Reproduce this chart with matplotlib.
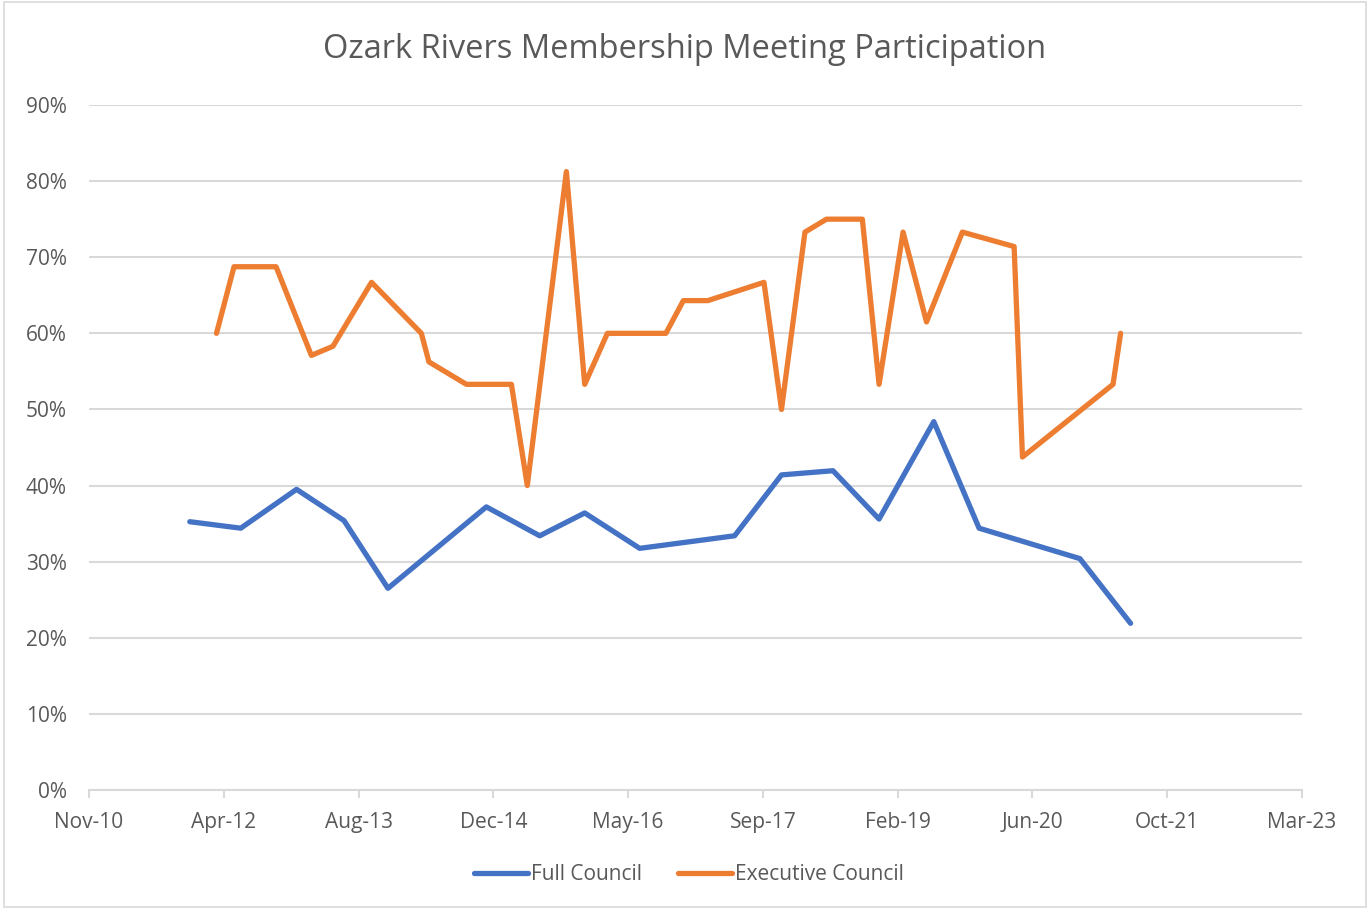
import matplotlib
matplotlib.use("Agg")
import matplotlib.pyplot as plt
import matplotlib.dates as mdates
from datetime import date

# Full Council meetings (roughly twice a year)
full_dates = [date(2011, 11, 27), date(2012, 6, 3), date(2012, 12, 27), date(2013, 6, 21),
              date(2013, 12, 1), date(2014, 12, 1), date(2015, 6, 17), date(2015, 12, 1),
              date(2016, 6, 22), date(2017, 6, 9), date(2017, 11, 30), date(2018, 6, 9),
              date(2018, 11, 27), date(2019, 6, 18), date(2019, 12, 3), date(2020, 12, 11),
              date(2021, 6, 17)]
full_vals = [0.3525, 0.344, 0.395, 0.354, 0.265, 0.372, 0.334, 0.364,
             0.3175, 0.334, 0.414, 0.4195, 0.356, 0.484, 0.344, 0.304, 0.219]

# Executive Council meetings
exec_dates = [date(2012, 3, 5), date(2012, 5, 9), date(2012, 10, 12), date(2013, 2, 20),
              date(2013, 5, 11), date(2013, 10, 1), date(2014, 4, 4), date(2014, 5, 2),
              date(2014, 9, 18), date(2015, 3, 4), date(2015, 5, 2), date(2015, 9, 24),
              date(2015, 12, 1), date(2016, 2, 23), date(2016, 9, 27), date(2016, 12, 1),
              date(2017, 3, 2), date(2017, 9, 26), date(2017, 11, 30), date(2018, 2, 25),
              date(2018, 5, 16), date(2018, 9, 26), date(2018, 11, 27), date(2019, 2, 24),
              date(2019, 5, 22), date(2019, 10, 2), date(2020, 4, 11), date(2020, 5, 12),
              date(2021, 4, 13), date(2021, 5, 11)]
exec_vals = [0.60, 0.6875, 0.6875, 0.571, 0.583, 0.667, 0.60, 0.5625,
             0.533, 0.533, 0.40, 0.8125, 0.533, 0.60, 0.60, 0.643,
             0.643, 0.667, 0.50, 0.733, 0.75, 0.75, 0.533, 0.733,
             0.615, 0.733, 0.714, 0.4375, 0.533, 0.60]

# Excel style date ticks every 500 days
tick_dates = [date(2010, 11, 18), date(2012, 4, 1), date(2013, 8, 14), date(2014, 12, 27),
              date(2016, 5, 10), date(2017, 9, 22), date(2019, 2, 4), date(2020, 6, 18),
              date(2021, 10, 31), date(2023, 3, 15)]
tick_labels = ["Nov-10", "Apr-12", "Aug-13", "Dec-14", "May-16", "Sep-17",
               "Feb-19", "Jun-20", "Oct-21", "Mar-23"]
y_ticks = [0.0, 0.1, 0.2, 0.3, 0.4, 0.5, 0.6, 0.7, 0.8, 0.9]

plt.rcParams['font.family'] = ['Open Sans', 'DejaVu Sans']
txt = '#595959'
grid_c = '#D9D9D9'

fig = plt.figure(figsize=(13.7, 9.09), dpi=100)
ax = fig.add_axes([89/1370, 1-790/909, (1302-89)/1370, (790-105)/909])

ax.plot(full_dates, full_vals, color='#4472C4', lw=3.8,
        solid_capstyle='round', solid_joinstyle='round', label='Full Council')
ax.plot(exec_dates, exec_vals, color='#ED7D31', lw=3.8,
        solid_capstyle='round', solid_joinstyle='round', label='Executive Council')

ax.set_xlim(mdates.date2num(tick_dates[0]), mdates.date2num(tick_dates[-1]))
ax.set_ylim(0, 0.9)
ax.set_xticks(mdates.date2num(tick_dates))
ax.set_xticklabels(tick_labels)
ax.set_yticks(y_ticks)
ax.set_yticklabels(["%d%%" % round(v * 100) for v in y_ticks])

ax.grid(axis='y', color=grid_c, lw=1.5)
ax.set_axisbelow(True)
for s in ['top', 'right', 'left']:
    ax.spines[s].set_visible(False)
ax.spines['bottom'].set_color(grid_c)
ax.spines['bottom'].set_linewidth(1.5)
ax.tick_params(axis='x', colors=grid_c, length=6, width=1.5, pad=10,
               labelcolor=txt, labelsize=15)
ax.tick_params(axis='y', length=0, pad=16, labelcolor=txt, labelsize=15)

fig.text(0.5, 1-50/909, "Ozark Rivers Membership Meeting Participation",
         ha='center', va='center', fontsize=23.5, color=txt)

fig.legend(loc='center', bbox_to_anchor=(0.503, 1-875/909), ncol=2, frameon=False,
           fontsize=15, labelcolor=txt, handlelength=2.6, handletextpad=0.15,
           columnspacing=1.7)

fig.patches.append(plt.Rectangle((4/1370, 2/909), 1362/1370, 905/909,
                                 transform=fig.transFigure, fill=False,
                                 edgecolor=grid_c, lw=1.2))

fig.savefig("out.png", dpi=100, facecolor='white')
